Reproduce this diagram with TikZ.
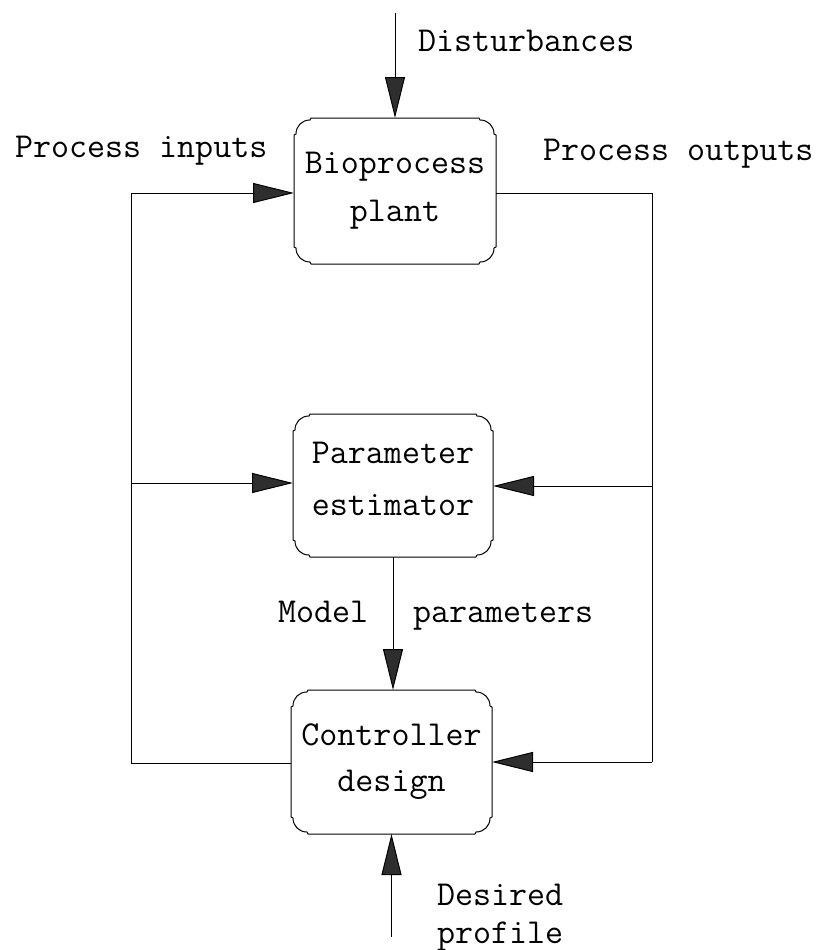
\documentclass[tikz,border=0pt]{standalone}
\usetikzlibrary{arrows.meta}
\newcommand\boxoutline[3]{%
  \begin{scope}[shift={(#1.north west)}]
    \draw[boxline] (17,0) -- (#2-17,0) -- (#2-16,2) .. controls (#2-8,2) and (#2-2,8) .. (#2-2,16) -- (#2,17)
      -- (#2,#3-17) -- (#2-2,#3-16) .. controls (#2-2,#3-8) and (#2-8,#3-2) .. (#2-16,#3-2) -- (#2-17,#3)
      -- (17,#3) -- (16,#3-2) .. controls (8,#3-2) and (2,#3-8) .. (2,#3-16) -- (0,#3-17)
      -- (0,17) -- (2,16) .. controls (2,8) and (8,2) .. (16,2) -- cycle;
  \end{scope}}
\begin{document}
\begin{tikzpicture}[x=1pt,y=-1pt,
  every node/.style={font=\ttfamily\fontsize{35}{49}\selectfont, inner sep=0pt, outer sep=0pt},
  procbox/.style={align=center, draw=none},
  boxline/.style={line width=1pt, line join=round},
  wire/.style={line width=1pt},
  arr/.style={wire, -{Triangle[length=41pt,width=20pt,fill=black!82]}},
  lbl/.style={anchor=base west}]
\useasboundingbox (0,0) rectangle (824,950);

% boxes
\node[procbox, minimum width=202pt, minimum height=146pt] (plant) at (395,191) {Bioprocess\\[-1pt]plant};
\node[procbox, minimum width=200pt, minimum height=143pt] (par) at (393,485.5) {Parameter\\[3pt]estimator\rule[-14pt]{0pt}{14pt}};
\node[procbox, minimum width=201pt, minimum height=144pt] (ctrl) at (391.5,762) {Controller\\[-3pt]design};
\boxoutline{plant}{202}{146}
\boxoutline{par}{200}{143}
\boxoutline{ctrl}{201}{144}

% labels
\node[lbl] (tdist) at (418,52) {Disturbances};
\node[lbl] (tin) at (15,157) {Process inputs};
\node[lbl] (tout) at (543,160) {Process outputs};
\node[lbl] (tmod) at (278,622) {Model};
\node[lbl] (tpar) at (413,622) {parameters};
\node[lbl, align=left, anchor=north west] (tdes) at (437,884) {Desired\\[-11pt]profile};

% coordinates
\coordinate (dist) at (395,13);
\coordinate (lt) at (131,193);
\coordinate (lm) at (131,483);
\coordinate (lb) at (131,763);
\coordinate (rt) at (652,193);
\coordinate (rm) at (652,486);
\coordinate (rb) at (652,762);
\coordinate (des) at (391.5,937);

% connectors
\draw[arr] (dist) -- (plant.north);
\draw[arr] (ctrl.west |- lb) -- (lb) -- (lt) -- (lt -| plant.west);
\draw[arr] (lm) -- (lm -| par.west);
\draw[wire] (rt -| plant.east) -- (rt) -- (rb);
\draw[arr] (rm) -- (rm -| par.east);
\draw[arr] (rb) -- (rb -| ctrl.east);
\draw[arr] (par.south) -- (par.south |- ctrl.north);
\draw[arr] (des) -- (ctrl.south);
\end{tikzpicture}
\end{document}
